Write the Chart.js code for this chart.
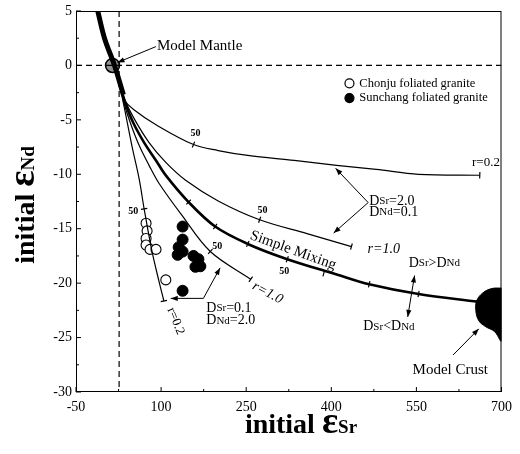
<!DOCTYPE html>
<html>
<head>
<meta charset="utf-8">
<script src="https://cdn.jsdelivr.net/npm/chart.js@4/dist/chart.umd.min.js"></script>
<style>
  html, body { margin: 0; padding: 0; background: #fff; }
</style>
</head>
<body>
<canvas id="chart" width="520" height="454"></canvas>
<script>
// axis ranges
const xRange = [-50, 700];
const yRange = [-30, 5];

// reference lines
const bulkSr = 26;
const bulkNd = 0;

// model end members
const mantle = [[14.4, 0]];
const crustOutline = [[700, -20.45], [682.6, -20.5], [667, -20.9], [656.5, -21.6], [654.7, -22.5],
  [660, -23.45], [672.1, -24.0], [687.8, -24.45], [700, -25.3], [700, -20.45]];

// curves
const mantleArray = [[-11.7, 5], [0.5, 2.45], [17.9, 0], [33.5, -2.7]];
const simpleMixing = [[17.9, 0], [26.6, -1.64], [37.0, -3.45], [50.9, -5.27], [70.1, -7.09], [91.0, -8.73],
  [108.3, -10.1], [148.4, -12.55], [195.3, -14.8], [252.8, -16.4], [322.4, -17.8], [409.4, -19.2],
  [466.8, -20.1], [553.8, -21.0], [658.2, -21.7]];
const curveD = [[17.9, 0], [26.6, -1.64], [35.3, -3.18], [52.7, -4.09], [91.0, -5.45], [157.1, -7.27],
  [200.6, -7.82], [252.8, -8.27], [334.6, -8.73], [409.4, -9.18], [479.0, -9.55], [553.8, -10.0], [661.7, -10.09]];
const curveC = [[17.9, 0], [26.6, -1.64], [37.0, -3.27], [52.7, -4.91], [78.8, -7.09], [108.3, -8.91],
  [143.2, -10.55], [200.6, -12.45], [273.7, -14.18], [357.2, -15.45], [435.5, -16.64]];
const curveB = [[17.9, 0], [26.6, -1.64], [33.5, -3.27], [45.7, -5.27], [61.4, -7.36], [78.8, -9.18],
  [96.2, -10.82], [136.2, -13.73], [186.7, -17.09], [258.0, -19.64]];
const curveA = [[17.9, 0], [26.6, -1.64], [31.8, -3.0], [40.5, -5.27], [49.2, -7.55], [61.4, -10.45],
  [70.1, -13.18], [84.0, -17.09], [96.2, -19.82], [104.9, -21.64]];

// tick marks along the curves
const curveTicks = [[157.1, -7.27], [661.7, -10.09], [273.7, -14.18], [435.5, -16.64], [186.7, -17.09],
  [258.0, -19.64], [70.1, -13.18], [104.9, -21.64], [148.4, -12.55], [195.3, -14.8], [252.8, -16.4],
  [322.4, -17.8], [386.8, -19.09], [466.8, -20.1], [553.8, -21.0]];
const tickAngles = [112, 92, 110, 106, 133, 125, 170, 168, 134, 124, 114, 110, 106, 103, 100];

// samples
const chonju = [[73.5, -14.5], [75.3, -15.2], [73.5, -15.9], [73.5, -16.5], [80.5, -16.9], [91, -16.9], [108.3, -19.7]];
const sunchang = [[137.9, -14.8], [137.9, -16.0], [131, -16.7], [129.2, -17.4], [137.9, -17.1],
  [157.1, -17.5], [165.8, -17.8], [160.5, -18.5], [169.2, -18.45], [137.9, -20.7]];

const SERIF = "'Liberation Serif', 'Times New Roman', 'DejaVu Serif', serif";
const toPts = arr => arr.map(([x, y]) => ({ x, y }));

function curve(pts, w) {
  return { data: toPts(pts), showLine: true, borderColor: '#000', borderWidth: w,
    pointRadius: 0, tension: 0.35, fill: false };
}

// text / arrow annotations, in data units
const notes = [
  { parts: [['Model Mantle', 15]], x: 92.7, y: 1.82 },
  { parts: [['Chonju foliated granite', 12.5]], x: 449.4, y: -1.64 },
  { parts: [['Sunchang foliated granite', 12.5]], x: 449.4, y: -3.0 },
  { parts: [['r=0.2', 13]], x: 648, y: -8.95 },
  { parts: [['D', 14], ['Sr', 11], ['=2.0', 14]], x: 466.8, y: -12.5 },
  { parts: [['D', 14], ['Nd', 11], ['=0.1', 14]], x: 466.8, y: -13.5 },
  { parts: [['r=1.0', 14, 'italic ']], x: 464, y: -16.9 },
  { parts: [['D', 14], ['Sr', 11], ['>D', 14], ['Nd', 11]], x: 536.4, y: -18.2 },
  { parts: [['D', 14], ['Sr', 11], ['<D', 14], ['Nd', 11]], x: 456.3, y: -24.0 },
  { parts: [['Model Crust', 15]], x: 543.3, y: -28.0 },
  { parts: [['D', 14], ['Sr', 11], ['=0.1', 14]], x: 179.7, y: -22.3 },
  { parts: [['D', 14], ['Nd', 11], ['=2.0', 14]], x: 179.7, y: -23.45 },
  { parts: [['Simple Mixing', 15]], x: 332.8, y: -17.0, rot: 20, center: true },
  { parts: [['r=1.0', 14, 'italic ']], x: 287.6, y: -20.9, rot: 28, center: true },
  { parts: [['r=0.2', 13]], x: 125.7, y: -23.5, rot: 68, center: true },
  { parts: [['50', 10, 'bold ']], x: 160.5, y: -6.27, center: true },
  { parts: [['50', 10, 'bold ']], x: 278.9, y: -13.3, center: true },
  { parts: [['50', 10, 'bold ']], x: 317.2, y: -18.9, center: true },
  { parts: [['50', 10, 'bold ']], x: 198.8, y: -16.6, center: true },
  { parts: [['50', 10, 'bold ']], x: 50.9, y: -13.45, center: true },
];
const arrows = [
  { from: [90.9, 1.73], to: [23.1, 0.27] },
  { from: [465, -12.6], to: [407.6, -9.45] },
  { from: [465, -12.6], to: [404.1, -15.4] },
  { from: [174.5, -21.4], to: [117, -21.4] },
  { from: [174.5, -21.4], to: [204, -18.6] },
  { from: [540.7, -21.2], to: [546.8, -19.3] },
  { from: [540.7, -21.2], to: [534.7, -23.1] },
  { from: [614.7, -26.6], to: [660, -24.2] },
];
const legendMarks = [{ x: 432, y: -1.64, filled: false }, { x: 432, y: -3.0, filled: true }];

function drawParts(ctx, parts, x, y, center) {
  let w = 0;
  parts.forEach(([t, s, st]) => { ctx.font = (st || '') + s + 'px ' + SERIF; w += ctx.measureText(t).width; });
  let cx = center ? x - w / 2 : x;
  parts.forEach(([t, s, st]) => {
    ctx.font = (st || '') + s + 'px ' + SERIF;
    ctx.fillText(t, cx, y);
    cx += ctx.measureText(t).width;
  });
}

function drawArrow(ctx, x1, y1, x2, y2) {
  ctx.beginPath(); ctx.moveTo(x1, y1); ctx.lineTo(x2, y2); ctx.stroke();
  const a = Math.atan2(y2 - y1, x2 - x1), L = 7, H = 2.6;
  ctx.beginPath();
  ctx.moveTo(x2, y2);
  ctx.lineTo(x2 - L * Math.cos(a) + H * Math.sin(a), y2 - L * Math.sin(a) - H * Math.cos(a));
  ctx.lineTo(x2 - L * Math.cos(a) - H * Math.sin(a), y2 - L * Math.sin(a) + H * Math.cos(a));
  ctx.closePath(); ctx.fill();
}

const decor = {
  id: 'decor',
  afterDatasetsDraw(chart) {
    const { ctx, chartArea: a, scales: { x, y } } = chart;
    const px = v => x.getPixelForValue(v), py = v => y.getPixelForValue(v);
    ctx.save();
    ctx.strokeStyle = '#000'; ctx.fillStyle = '#000'; ctx.lineWidth = 1;
    // frame and inward ticks
    ctx.strokeRect(a.left + 0.5, a.top + 0.5, a.right - a.left - 1, a.bottom - a.top - 1);
    ctx.beginPath();
    for (let v = yRange[0]; v <= yRange[1]; v += 2.5) {
      const len = v % 5 === 0 ? 5 : 3;
      ctx.moveTo(a.left, py(v)); ctx.lineTo(a.left + len, py(v));
    }
    for (let v = xRange[0]; v <= xRange[1]; v += 75) {
      const len = (v - xRange[0]) % 150 === 0 ? 5 : 3;
      ctx.moveTo(px(v), a.bottom); ctx.lineTo(px(v), a.bottom - len);
    }
    ctx.stroke();

    // arrows
    ctx.lineWidth = 1;
    arrows.forEach(r => drawArrow(ctx, px(r.from[0]), py(r.from[1]), px(r.to[0]), py(r.to[1])));

    // legend markers
    legendMarks.forEach(m => {
      ctx.beginPath(); ctx.arc(px(m.x), py(m.y), 4.5, 0, Math.PI * 2);
      ctx.fillStyle = m.filled ? '#000' : '#fff'; ctx.fill();
      ctx.lineWidth = 1.2; ctx.stroke();
    });

    // notes
    ctx.fillStyle = '#000';
    ctx.textBaseline = 'middle';
    notes.forEach(n => {
      ctx.save();
      ctx.translate(px(n.x), py(n.y));
      if (n.rot) ctx.rotate(n.rot * Math.PI / 180);
      drawParts(ctx, n.parts, 0, 0, n.center);
      ctx.restore();
    });

    // axis titles
    ctx.textBaseline = 'alphabetic';
    const xt = [['initial ', 28, 'bold '], ['\u03b5', 38, 'bold '], ['Sr', 19, 'bold ']];
    drawParts(ctx, xt, 301, 433, true);
    ctx.save();
    ctx.translate(34, 205);
    ctx.rotate(-Math.PI / 2);
    const yt = [['initial ', 28, 'bold '], ['\u03b5', 38, 'bold '], ['Nd', 19, 'bold ']];
    drawParts(ctx, yt, 0, 0, true);
    ctx.restore();
    ctx.restore();
  }
};

new Chart(document.getElementById('chart'), {
  type: 'scatter',
  data: {
    datasets: [
      { data: toPts([[bulkSr, yRange[1]], [bulkSr, yRange[0]]]), showLine: true, borderColor: '#000',
        borderWidth: 1.2, borderDash: [6, 4], pointRadius: 0 },
      { data: toPts([[xRange[0], bulkNd], [xRange[1], bulkNd]]), showLine: true, borderColor: '#000',
        borderWidth: 1.2, borderDash: [6, 4], pointRadius: 0 },
      curve(curveD, 1.2),
      curve(curveC, 1.2),
      curve(curveB, 1.2),
      curve(curveA, 1.2),
      curve(simpleMixing, 2.6),
      curve(mantleArray, 5),
      { data: toPts(crustOutline), showLine: true, borderColor: '#000', backgroundColor: '#000',
        borderWidth: 1, pointRadius: 0, tension: 0.4, fill: 'shape' },
      { data: toPts(curveTicks), pointStyle: 'line', rotation: tickAngles, pointRadius: 3.2,
        borderColor: '#000', borderWidth: 1.2 },
      { data: toPts(chonju), pointStyle: 'circle', pointRadius: 5, backgroundColor: '#fff',
        borderColor: '#000', borderWidth: 1.1 },
      { data: toPts(sunchang), pointStyle: 'circle', pointRadius: 5.5, backgroundColor: '#000',
        borderColor: '#000', borderWidth: 1 },
      { data: toPts(mantle), pointStyle: 'circle', pointRadius: 7, backgroundColor: 'rgba(110,110,110,0.75)',
        borderColor: '#000', borderWidth: 1.5 },
    ]
  },
  options: {
    responsive: false,
    animation: false,
    devicePixelRatio: 1,
    layout: { padding: { left: 0, right: 13, top: 7, bottom: 0 } },
    plugins: { legend: { display: false }, tooltip: { enabled: false } },
    scales: {
      x: {
        type: 'linear', min: xRange[0], max: xRange[1],
        grid: { display: false, drawTicks: false },
        border: { display: false },
        ticks: { stepSize: 150, padding: 8, color: '#000', font: { family: SERIF, size: 14, lineHeight: 1 } },
        afterFit: s => { s.height = 62; }
      },
      y: {
        type: 'linear', min: yRange[0], max: yRange[1],
        grid: { display: false, drawTicks: false },
        border: { display: false },
        ticks: { stepSize: 5, padding: 4, color: '#000', font: { family: SERIF, size: 14, lineHeight: 1 } },
        afterFit: s => { s.width = 76; }
      }
    }
  },
  plugins: [decor]
});
</script>
</body>
</html>
